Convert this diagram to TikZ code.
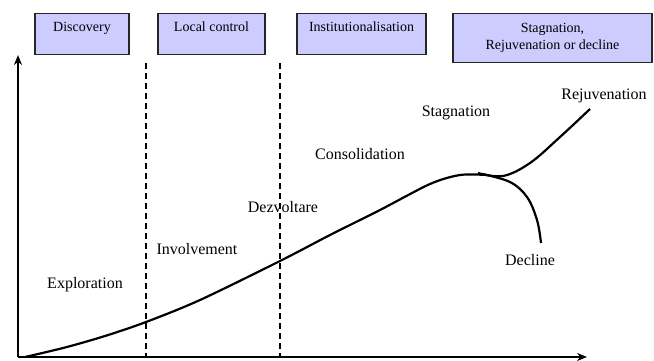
\documentclass[tikz,border=0pt]{standalone}
\usepackage{fontspec}
\setmainfont{Liberation Serif}
\usetikzlibrary{arrows.meta}
\definecolor{lav}{RGB}{204,204,255}

\begin{document}
\begin{tikzpicture}[>={Stealth[length=10pt,width=8pt]},x=1pt,y=-1pt,
	phase/.style={draw=black!85,line width=1.2pt,fill=lav,anchor=north,inner ysep=4pt,font=\fontsize{14}{17}\selectfont},
	onerow/.style={phase,text height=14pt,text depth=19pt},
	lbl/.style={font=\fontsize{16}{19}\selectfont},
	axis/.style={line width=1.5pt},
	curve/.style={line width=2.2pt},
	divider/.style={line width=1.2pt,dash pattern=on 6pt off 4pt}]
\useasboundingbox (0,0) rectangle (654,360);

% phases
\node[onerow,minimum width=94pt]   (discovery)  at (82,13)    {Discovery};
\node[onerow,minimum width=107pt]  (localctrl)  at (211.5,13) {Local control};
\node[onerow,minimum width=129pt]  (instit)     at (361.5,13) {Institutionalisation};
\node[phase,minimum width=199pt,minimum height=49pt,align=center] (stagbox) at (552.5,13) {Stagnation,\\Rejuvenation or decline};

% axes
\coordinate (origin) at (18,357);
\coordinate (ytop)   at (18,55);
\coordinate (xend)   at (587,357);
\path[->,axis] (origin) edge (ytop)
				edge (xend);

% dividers
\coordinate (d1top) at (146,63);
\coordinate (d1bot) at (146,357);
\coordinate (d2top) at (280,63);
\coordinate (d2bot) at (280,357);
\draw[divider] (d1top) -- (d1bot);
\draw[divider] (d2top) -- (d2bot);

% curve
\draw[curve] plot[smooth,tension=0.5] coordinates {(25,357) (65,347.5) (105,336) (146,322) (200,300) (280,261) (330,235) (380,210) (430,184) (460,175) (487,175)};
\draw[curve] plot[smooth,tension=0.6] coordinates {(478,173) (503,176) (530,163) (560,137) (590,109)};
\draw[curve] plot[smooth,tension=0.6] coordinates {(482,174) (510,182) (527,197) (537,220) (541,243)};

% stages
\node[lbl] (explo)  at (85,285)  {Exploration};
\node[lbl] (invol)  at (197,249) {Involvement};
\node[lbl] (dezv)   at (283,207) {Dezvoltare};
\node[lbl] (consol) at (360,154) {Consolidation};
\node[lbl] (stag)   at (456,113) {Stagnation};
\node[lbl] (rejuv)  at (604,96)  {Rejuvenation};
\node[lbl] (decl)   at (530,260) {Decline};
\end{tikzpicture}
\end{document}
